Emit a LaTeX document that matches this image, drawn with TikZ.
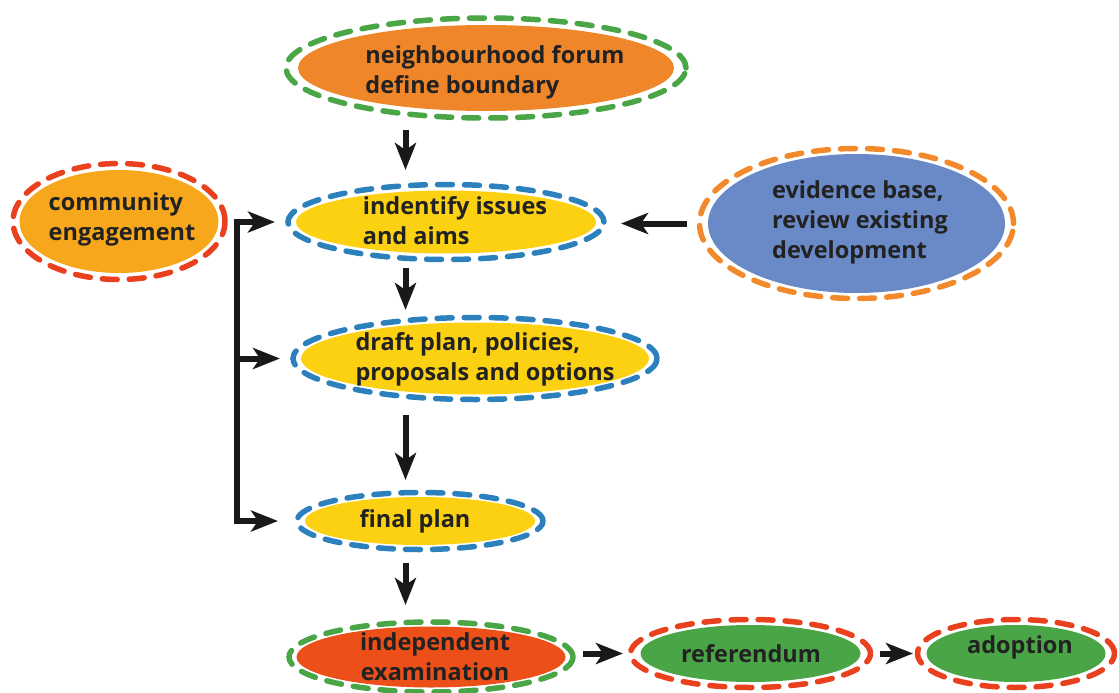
\documentclass[tikz,border=0pt]{standalone}
\usepackage{fontspec}
\setmainfont{Open Sans}
\usetikzlibrary{shapes.geometric,arrows.meta}
\definecolor{cOrange}{HTML}{F0862A}
\definecolor{cGreen}{HTML}{4AA547}
\definecolor{cYellow}{HTML}{FCD111}
\definecolor{cBlue}{HTML}{2C80BB}
\definecolor{cEvid}{HTML}{6A89C7}
\definecolor{cOrDash}{HTML}{F28A2C}
\definecolor{cComm}{HTML}{F6A71C}
\definecolor{cRed}{HTML}{E9411D}
\definecolor{cIndep}{HTML}{EC4F18}
\definecolor{cText}{HTML}{222222}
\tikzset{
  blob/.style={ellipse, inner sep=0pt, outer sep=0pt},
  ring/.style={line width=5.5pt, line cap=round, dash pattern=on 15pt off 12pt},
  lbl/.style={text=cText, font=\bfseries\fontsize{23.5}{30}\selectfont, inner sep=0pt},
  arr/.style={line width=6pt, draw=black!90, -{Stealth[length=27pt,width=21pt,inset=7pt]}, line join=miter},
}
\begin{document}
\begin{tikzpicture}[x=1pt,y=-1pt]
\useasboundingbox (0,0) rectangle (1119,693);
% top
\node[blob, fill=cOrange, minimum width=376pt, minimum height=86pt] (top) at (486,68) {};
\draw[ring, cGreen] (top.center) ellipse [x radius=200pt, y radius=50pt];
\node[lbl, align=left] (topt) at (495,72) {neighbourhood forum\\define boundary};
% issues
\node[blob, fill=cYellow, minimum width=300pt, minimum height=63pt] (iss) at (446,222) {};
\draw[ring, cBlue] (iss.center) ellipse [x radius=158pt, y radius=37.5pt];
\node[lbl, align=left] (isst) at (455,221) {indentify issues\\and aims};
% evidence
\node[blob, fill=cEvid, minimum width=297pt, minimum height=139pt] (ev) at (856.5,223.5) {};
\draw[ring, cOrDash] (ev.center) ellipse [x radius=157pt, y radius=75pt];
\node[lbl, align=left] (evt) at (860,222) {evidence base,\\review existing\\development};
% community
\node[blob, fill=cComm, minimum width=199pt, minimum height=103pt] (com) at (119,221.5) {};
\draw[ring, cRed] (com.center) ellipse [x radius=106pt, y radius=58pt];
\node[lbl, align=left] (comt) at (122,219) {community\\engagement};
% draft
\node[blob, fill=cYellow, minimum width=348pt, minimum height=72pt] (dr) at (475,358.5) {};
\draw[ring, cBlue] (dr.center) ellipse [x radius=182pt, y radius=41pt];
\node[lbl, align=left] (drt) at (485,359) {draft plan, policies,\\proposals and options};
% final
\node[blob, fill=cYellow, minimum width=230pt, minimum height=48pt] (fin) at (420,521) {};
\draw[ring, cBlue] (fin.center) ellipse [x radius=123pt, y radius=28.5pt];
\node[lbl] (fint) at (415,521) {final plan};
% independent
\node[blob, fill=cIndep, minimum width=269pt, minimum height=61pt] (ind) at (431,657) {};
\draw[ring, cGreen] (ind.center) ellipse [x radius=142pt, y radius=35pt];
\node[lbl, align=center] (indt) at (435,657) {independent\\examination};
% referendum
\node[blob, fill=cGreen, minimum width=220pt, minimum height=57pt] (ref) at (750.5,653.5) {};
\draw[ring, cRed] (ref.center) ellipse [x radius=120pt, y radius=34pt];
\node[lbl] (reft) at (751,654) {referendum};
% adoption
\node[blob, fill=cGreen, minimum width=179pt, minimum height=57pt] (ad) at (1016,653.5) {};
\draw[ring, cRed] (ad.center) ellipse [x radius=98.5pt, y radius=34pt];
\node[lbl] (adt) at (1020,647) {adoption};
% connectors
\coordinate (ax) at (405.5,0);
\coordinate (bx) at (236.5,0);
\draw[arr, shorten <=19pt, shorten >=20.5pt] (top.south -| ax) -- (iss.north -| ax);
\draw[arr, shorten <=14.5pt, shorten >=12.5pt] (iss.south -| ax) -- (dr.north -| ax);
\draw[arr, shorten <=20.5pt, shorten >=17pt] (dr.south -| ax) -- (fin.north -| ax);
\draw[arr, shorten <=18pt, shorten >=21.5pt] (fin.south -| ax) -- (ind.north -| ax);
\draw[arr, shorten <=21pt, shorten >=25pt] (ev.west) -- (ev.west -| iss.east);
\draw[arr, shorten <=17.5pt, shorten >=17.5pt] (ref.west -| ind.east) -- (ref.west);
\draw[arr, shorten <=19.5pt, shorten >=13.5pt] (ref.east) -- (ad.west);
\draw[arr, shorten >=21pt] (dr.west -| bx) -- (iss.west -| bx) -- (iss.west);
\draw[arr, shorten >=27pt] (dr.west -| bx) -- (fin.west -| bx) -- (fin.west);
\draw[arr, shorten >=21pt] (dr.west -| bx) -- (dr.west);
\end{tikzpicture}
\end{document}
